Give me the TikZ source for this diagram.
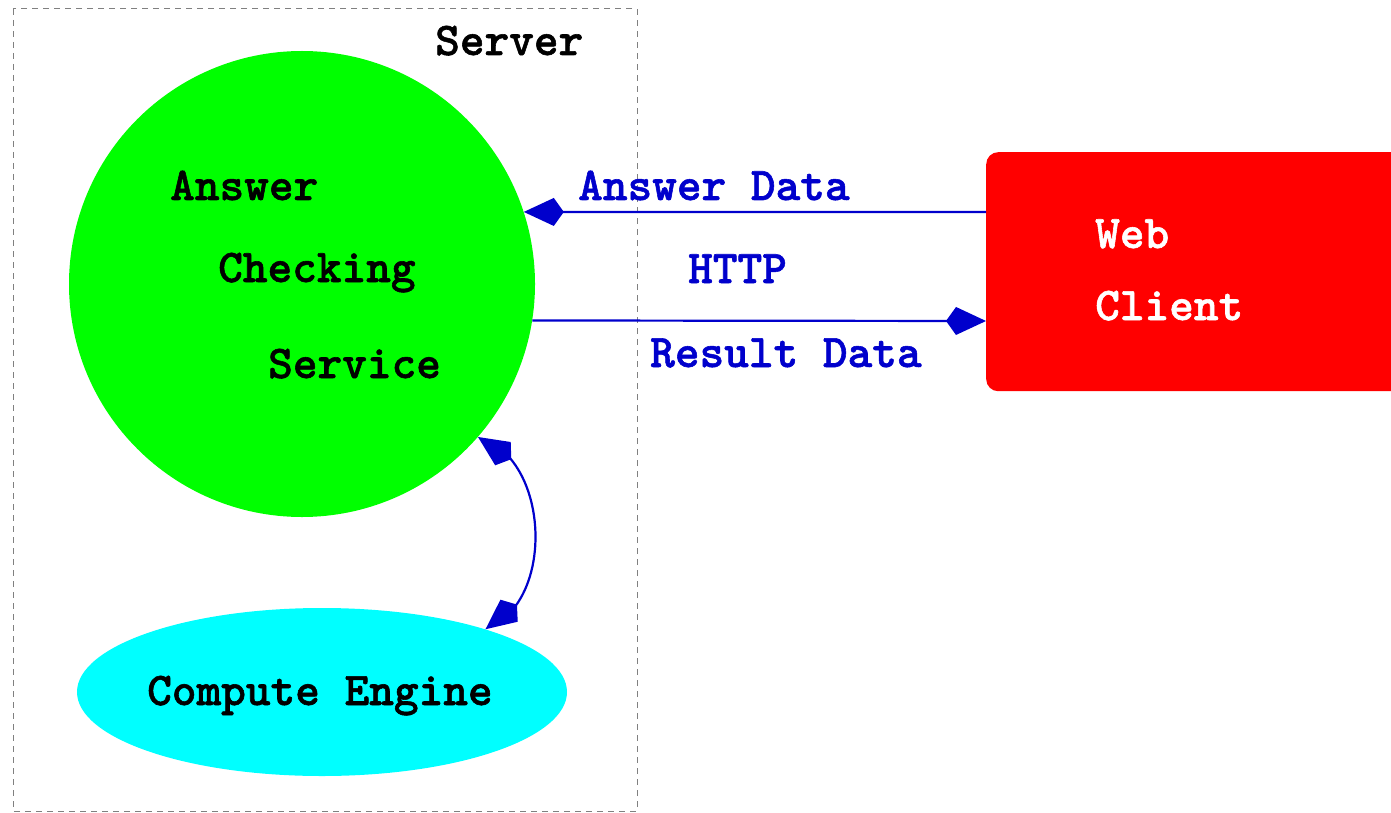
\documentclass[tikz,border=0pt]{standalone}
\usepackage{fontspec}
\newfontfamily\cour{lmmonolt10-bold.otf}[FakeBold=1.2]
\usetikzlibrary{arrows.meta,shapes.geometric,bending}
\definecolor{lblue}{RGB}{0,0,204}
\definecolor{srvgray}{RGB}{128,128,128}
\tikzset{
  txt/.style={anchor=base west,inner sep=0pt,font=\cour\fontsize{47}{47}\selectfont},
  lbl/.style={txt,text=lblue},
  kt/.tip={Kite[length=40pt,width=28pt,inset=10pt]},
  conn/.style={draw=lblue,line width=2.2pt,-kt},
  dconn/.style={draw=lblue,line width=2.2pt,kt-kt},
}
\begin{document}
\begin{tikzpicture}[x=1pt,y=-1pt]
\useasboundingbox (0,0) rectangle (1391,813);
% server frame
\draw[srvgray,line width=1pt,dash pattern=on 6pt off 5pt] (13,9) rectangle (637,811);
\node[txt] (srv) at (435,55) {Server};
% shapes
\node[circle,fill={rgb,255:red,0;green,255;blue,0},minimum size=466pt,inner sep=0pt] (acs) at (302,284) {};
\node[ellipse,fill={rgb,255:red,0;green,255;blue,255},minimum width=490pt,minimum height=168pt,inner sep=0pt] (ce) at (322,692) {};
\node[rectangle,rounded corners=12pt,fill={rgb,255:red,255;green,0;blue,0},minimum width=440pt,minimum height=239pt,inner sep=0pt,anchor=north west] (wc) at (986,152) {};
% texts
\node[txt] (t1) at (170,200) {Answer};
\node[txt] (t2) at (218,282) {Checking};
\node[txt] (t3) at (268,378) {Service};
\node[txt] (t4) at (147,705) {Compute Engine};
\node[txt,text=white] (t5) at (1095,248) {Web};
\node[txt,text=white] (t6) at (1095,320) {Client};
% labels
\node[lbl] (l1) at (578,200) {Answer Data};
\node[lbl] (l2) at (688,283) {HTTP};
\node[lbl] (l3) at (650,367) {Result Data};
% connectors
\draw[conn] (wc.west |- 0,212) -- (acs.18);
\draw[conn] (acs.-9) -- (wc.west |- 0,321);
\draw[dconn] (acs.-41) to[bend left=72] (ce.21);
\end{tikzpicture}
\end{document}
